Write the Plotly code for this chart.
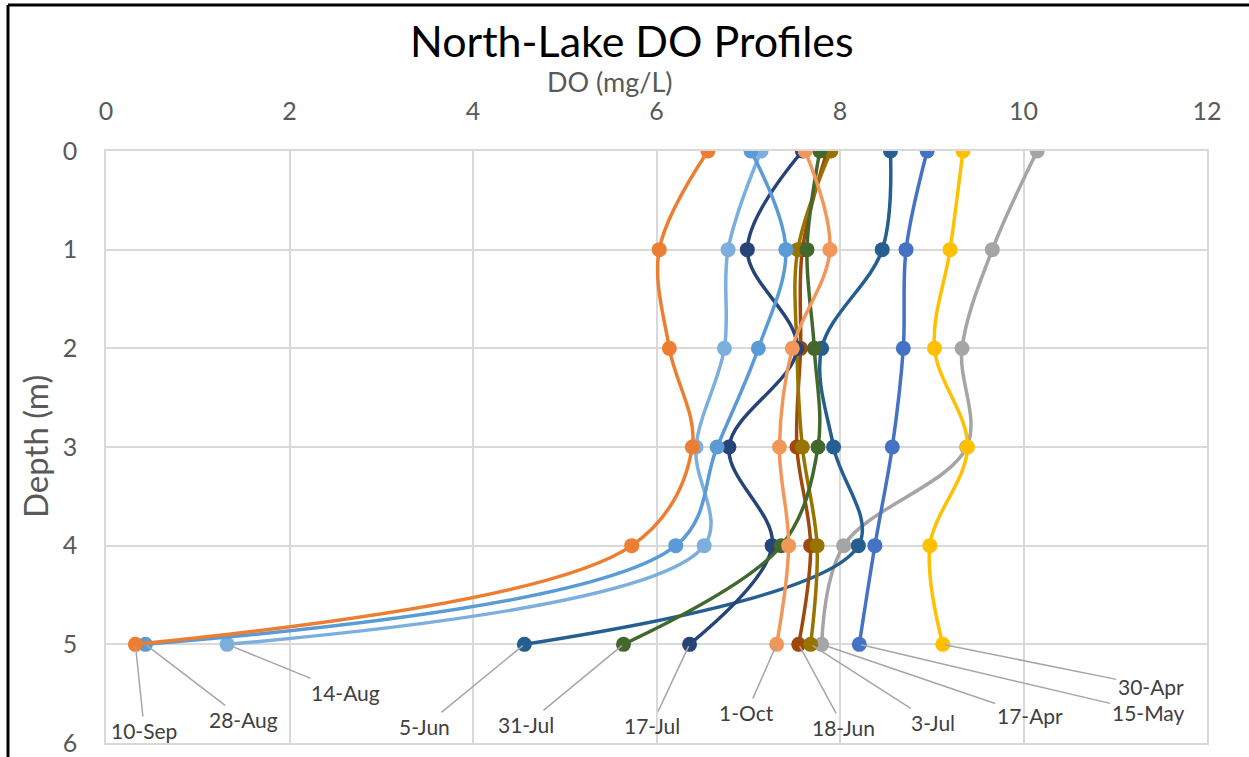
import plotly.graph_objects as go

# Depths sampled on every profile (m)
depths = [0, 1, 2, 3, 4, 5]

# Dissolved-oxygen readings (mg/L) per sampling date, surface to 5 m
do_17apr = [10.15, 9.66, 9.33, 9.38, 8.04, 7.80]
do_30apr = [9.34, 9.20, 9.03, 9.39, 8.98, 9.12]
do_15may = [8.95, 8.72, 8.69, 8.57, 8.38, 8.21]
do_5jun = [8.55, 8.46, 7.80, 7.93, 8.20, 4.56]
do_18jun = [7.86, 7.59, 7.57, 7.53, 7.68, 7.55]
do_3jul = [7.90, 7.54, 7.53, 7.59, 7.75, 7.68]
do_17jul = [7.59, 6.99, 7.53, 6.79, 7.26, 6.36]
do_31jul = [7.78, 7.64, 7.72, 7.76, 7.36, 5.64]
do_14aug = [7.14, 6.78, 6.74, 6.43, 6.52, 1.32]
do_28aug = [7.03, 7.41, 7.11, 6.66, 6.21, 0.43]
do_10sep = [6.56, 6.03, 6.14, 6.39, 5.73, 0.32]
do_1oct = [7.62, 7.89, 7.48, 7.34, 7.44, 7.31]

dates = ["17-Apr", "30-Apr", "15-May", "5-Jun", "18-Jun", "3-Jul",
         "17-Jul", "31-Jul", "14-Aug", "28-Aug", "10-Sep", "1-Oct"]
profiles = [do_17apr, do_30apr, do_15may, do_5jun, do_18jun, do_3jul,
            do_17jul, do_31jul, do_14aug, do_28aug, do_10sep, do_1oct]
colors = ["#A5A5A5", "#FFC000", "#4472C4", "#255E91", "#9E480E", "#997300",
          "#264478", "#43682B", "#7CAFDD", "#5B9BD5", "#ED7D31", "#F1975A"]

# Pixel offsets of each date label from its deepest reading
label_offsets = {
    "17-Apr": (208, 71), "30-Apr": (208, 42), "15-May": (289, 68),
    "5-Jun": (-100, 82), "18-Jun": (45, 83), "3-Jul": (122, 78),
    "17-Jul": (-38, 81), "31-Jul": (-97, 80), "14-Aug": (118, 48),
    "28-Aug": (98, 75), "10-Sep": (9, 86), "1-Oct": (-30, 68),
}

FONT = "Lato, 'Open Sans', sans-serif"

fig = go.Figure()
for name, vals, col in zip(dates, profiles, colors):
    fig.add_trace(go.Scatter(
        x=vals, y=depths, name=name, mode="lines+markers",
        line=dict(color=col, width=3.5, shape="spline", smoothing=1.0),
        marker=dict(color=col, size=15),
        showlegend=False,
    ))

annotations = []
for name, vals in zip(dates, profiles):
    ax, ay = label_offsets[name]
    annotations.append(dict(
        x=vals[-1], y=depths[-1], xref="x", yref="y",
        text=name, showarrow=True, arrowhead=0, arrowwidth=1.5,
        arrowcolor="#A6A6A6", ax=ax, ay=ay, standoff=2,
        font=dict(family=FONT, size=21, color="#404040"),
    ))

W, H = 1249, 757
L, R, T, B = 106, 42, 151, 14
pw, ph = W - L - R, H - T - B


def px(xp):
    return (xp - L) / pw


def py(yp):
    return (H - B - yp) / ph


annotations += [
    dict(text="North-Lake DO Profiles", x=px(632), y=py(40), xref="paper", yref="paper",
         showarrow=False, xanchor="center", yanchor="middle",
         font=dict(family=FONT, size=43, color="#000000")),
    dict(text="DO (mg/L)", x=px(610), y=py(81), xref="paper", yref="paper",
         showarrow=False, xanchor="center", yanchor="middle",
         font=dict(family=FONT, size=27, color="#595959")),
    dict(text="Depth (m)", x=px(35), y=py(447), xref="paper", yref="paper",
         showarrow=False, xanchor="center", yanchor="middle", textangle=-90,
         font=dict(family=FONT, size=33, color="#595959")),
]

fig.update_layout(
    width=W, height=H,
    margin=dict(l=L, r=R, t=T, b=B, autoexpand=False),
    paper_bgcolor="white", plot_bgcolor="white",
    annotations=annotations,
    shapes=[
        dict(type="line", xref="paper", yref="paper", x0=px(8), x1=px(8),
             y0=py(H + 10), y1=py(5), line=dict(color="black", width=3)),
        dict(type="line", xref="paper", yref="paper", x0=px(8), x1=px(W + 10),
             y0=py(5), y1=py(5), line=dict(color="black", width=3)),
    ],
)

fig.update_xaxes(
    side="top", range=[0, 12], dtick=2, tick0=0, automargin=False,
    showgrid=True, gridcolor="#D9D9D9", gridwidth=1.5,
    showline=True, linecolor="#D9D9D9", linewidth=1.5, mirror=True,
    zeroline=False, ticks="", ticklabelstandoff=19,
    tickfont=dict(family=FONT, size=25, color="#595959"),
)
fig.update_yaxes(
    range=[6, 0], dtick=1, tick0=0, automargin=False,
    showgrid=True, gridcolor="#D9D9D9", gridwidth=1.5,
    showline=True, linecolor="#D9D9D9", linewidth=1.5, mirror=True,
    zeroline=False, ticks="", ticklabelstandoff=22,
    tickfont=dict(family=FONT, size=25, color="#595959"),
)

fig.write_html("out.html")
